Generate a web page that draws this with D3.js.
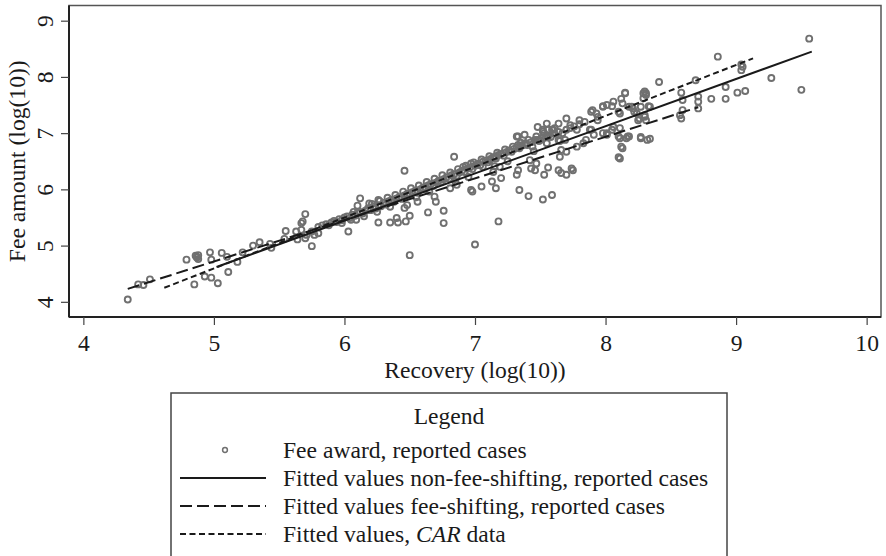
<!DOCTYPE html>
<html>
<head>
<meta charset="utf-8">
<script src="https://cdn.jsdelivr.net/npm/d3@7"></script>
<style>
  body { margin: 0; background: #fff; }
  svg text { font-family: "Liberation Serif", "Times New Roman", serif; fill: #1a1a1a; }
</style>
</head>
<body>
<div id="main"></div>
<script>
let w = 886;
let h = 556;

// scatter: Recovery (log10), Fee amount (log10)
let recovery = [4.34,4.42,4.46,4.51,4.79,4.87,4.86,4.88,4.88,4.87,4.97,4.98,5.06,5.10,4.93,4.98,4.85,5.03,5.11,5.18,
  5.22,5.30,5.35,5.43,5.44,5.54,5.55,5.63,5.64,5.67,5.70,5.75,5.68,5.67,5.71,5.77,5.80,5.70,5.75,
  5.98,6.03,6.07,6.09,6.12,6.10,6.14,6.18,6.19,6.26,6.35,6.41,6.47,6.50,6.50,6.64,6.76,6.76,7.00,7.18,
  6.46,6.84,6.40,6.48,6.46,6.56,6.70,6.69,6.26,6.97,6.98,7.05,7.13,7.16,7.20,7.32,7.33,7.34,7.41,7.52,7.59,
  7.43,7.53,7.56,7.64,7.66,7.70,7.74,7.75,7.66,7.70,7.55,7.56,7.61,7.64,7.70,7.73,7.78,7.80,7.78,7.83,
  7.88,7.89,7.93,7.94,7.98,8.01,8.06,8.11,8.13,8.15,7.98,8.01,8.05,8.11,8.11,8.16,8.13,8.11,8.20,8.27,
  8.29,8.31,8.27,8.32,8.26,8.30,9.56,9.50,9.27,9.07,9.01,9.04,9.04,9.05,8.86,8.92,8.92,8.81,8.69,8.71,
  8.71,8.71,8.58,8.59,8.59,8.57,8.58,8.41,8.30,8.31,8.29,8.34,8.30,8.31,8.21,8.22,8.25,8.27,8.34,8.18,
  8.15,8.12,8.33,8.18,8.10,7.94,7.90,7.98,8.05,7.89,7.91,8.01,8.06,7.85,8.10,8.17,8.12,8.10,8.24,
  7.60,7.52,7.50,7.56,7.44,7.33,7.38,7.14,7.19,7.06,7.11,7.16,7.33,6.81,6.86,6.97,6.91,7.42,7.47,7.46,
  7.39,7.48,7.55,7.64,7.69,7.65,7.52,7.48,7.32,
  5.80,5.83,5.86,5.88,5.90,5.92,5.94,5.96,5.98,6.00,6.02,6.04,6.06,6.08,6.10,6.12,6.14,6.16,6.18,6.20,
  6.22,6.24,6.26,6.28,6.30,6.32,6.34,6.36,6.38,6.40,6.42,6.44,6.46,6.48,6.50,6.52,6.54,6.56,6.58,6.60,
  6.62,6.64,6.66,6.68,6.70,6.72,6.74,6.76,6.78,6.80,6.82,6.84,6.86,6.88,6.90,6.92,6.94,6.96,6.98,7.00,
  7.02,7.04,7.06,7.08,7.10,7.12,7.14,7.16,7.18,7.20,7.22,7.24,7.26,7.28,7.30,7.32,7.34,7.36,7.38,7.40,
  7.43,7.46,7.49,7.52,7.55,7.58,7.61,7.64,7.67,7.70,7.73,7.76,7.80,7.84,
  6.21,6.27,6.33,6.39,6.45,6.51,6.57,6.63,6.69,6.75,6.81,6.87,6.93,6.99,7.05,7.11,7.17,7.23,7.29,7.35,
  7.41,7.47,7.53,7.59,
  6.05,6.15,6.25,6.35,6.55,6.65,6.85,6.95,7.15,7.25,7.45,7.65];
let feeAmount = [4.04,4.31,4.30,4.40,4.75,4.79,4.82,4.76,4.83,4.80,4.88,4.75,4.87,4.80,4.45,4.43,4.31,4.33,4.53,4.71,
  4.88,5.00,5.06,5.03,4.96,5.12,5.26,5.25,5.11,5.40,5.56,4.99,5.43,5.28,5.19,5.19,5.22,5.13,5.25,
  5.40,5.25,5.60,5.46,5.84,5.71,5.58,5.63,5.75,5.41,5.41,5.41,5.43,5.53,4.83,5.59,5.62,5.40,5.02,5.43,
  6.33,6.58,5.49,5.72,5.67,5.78,5.78,5.87,5.81,5.99,5.96,6.05,6.14,6.02,6.20,6.26,6.34,5.99,5.88,5.82,5.90,
  6.37,6.26,6.39,6.34,6.29,6.26,6.37,6.34,6.70,6.67,7.17,7.06,7.09,7.17,7.26,7.14,7.06,7.23,6.76,6.82,
  7.06,7.38,7.35,7.23,7.47,7.50,7.56,7.35,7.53,7.71,7.00,6.97,7.06,7.09,6.91,6.91,6.73,6.55,7.47,7.47,
  7.71,7.71,6.91,6.88,7.26,7.29,8.68,7.77,7.98,7.75,7.72,8.22,8.12,8.18,8.36,7.82,7.61,7.61,7.94,7.65,
  7.56,7.44,7.72,7.59,7.41,7.32,7.26,7.91,7.74,7.68,7.62,7.47,7.32,7.23,7.44,7.38,7.23,6.93,6.90,6.94,
  7.72,7.61,7.48,7.47,7.38,7.29,7.41,7.48,7.48,7.06,6.97,7.00,7.11,6.88,6.94,6.94,6.76,6.57,7.35,
  7.06,7.03,6.88,6.94,6.76,6.94,6.97,6.31,6.40,6.40,6.52,6.58,6.79,6.02,6.08,6.46,6.40,6.52,6.46,6.34,
  6.82,6.88,6.82,6.88,6.88,6.58,7.06,7.11,6.94,
  5.33,5.36,5.38,5.36,5.41,5.44,5.42,5.47,5.45,5.50,5.52,5.49,5.55,5.53,5.58,5.60,5.57,5.62,5.66,5.63,
  5.69,5.66,5.72,5.70,5.76,5.73,5.79,5.81,5.78,5.84,5.86,5.83,5.89,5.92,5.90,5.95,5.97,5.94,6.00,6.03,
  6.01,6.07,6.09,6.06,6.12,6.15,6.13,6.18,6.21,6.19,6.25,6.27,6.24,6.30,6.33,6.31,6.37,6.39,6.36,6.42,
  6.45,6.43,6.49,6.51,6.48,6.54,6.57,6.55,6.61,6.63,6.60,6.66,6.69,6.67,6.72,6.75,6.73,6.78,6.81,6.79,
  6.84,6.88,6.86,6.92,6.95,6.93,6.99,7.02,7.00,7.06,7.09,7.12,7.16,7.20,
  5.74,5.79,5.85,5.90,5.96,6.02,6.07,6.13,6.19,6.25,6.30,6.36,6.42,6.48,6.53,6.59,6.65,6.71,6.76,6.83,
  6.88,6.94,7.00,7.06,
  5.46,5.52,5.60,5.69,5.86,5.96,6.14,6.22,6.41,6.50,6.68,6.86];

// fitted lines, endpoints [recovery, fee]
let fitNonFee = [[5.02, 4.62], [9.58, 8.45]];
let fitFee = [[4.34, 4.23], [8.71, 7.46]];
let fitCAR = [[4.62, 4.25], [9.13, 8.33]];

let xTicks = [4, 5, 6, 7, 8, 9, 10];
let yTicks = [4, 5, 6, 7, 8, 9];

let legendLabels = ["Fee award, reported cases",
  "Fitted values non-fee-shifting, reported cases",
  "Fitted values fee-shifting, reported cases",
  "Fitted values, "];

let plot = {left: 69, right: 881, top: 5.5, bottom: 317};
let fs = 23.6;

let svg = d3.select("#main").append("svg")
  .attr("width", w)
  .attr("height", h);

let xScale = d3.scaleLinear().domain([3.89, 10.11]).range([plot.left, plot.right]);
let yScale = d3.scaleLinear().domain([3.73, 9.27]).range([plot.bottom, plot.top]);

// frame (top / right)
svg.append("rect")
  .attr("x", plot.left).attr("y", plot.top)
  .attr("width", plot.right - plot.left).attr("height", plot.bottom - plot.top)
  .attr("fill", "none").attr("stroke", "#555").attr("stroke-width", 1.5);

let pts = recovery.map((d, i) => [d, feeAmount[i]]);

svg.append("g").selectAll("circle")
  .data(pts)
  .enter().append("circle")
  .attr("cx", d => xScale(d[0]))
  .attr("cy", d => yScale(d[1]))
  .attr("r", 3)
  .attr("fill", "none")
  .attr("stroke", "#707070")
  .attr("stroke-width", 1.9);

let line = d3.line().x(d => xScale(d[0])).y(d => yScale(d[1]));
let styles = [null, "none", "12,5", "6,3.5"];

svg.append("path").attr("d", line(fitNonFee)).attr("fill", "none")
  .attr("stroke", "#1a1a1a").attr("stroke-width", 2);
svg.append("path").attr("d", line(fitFee)).attr("fill", "none")
  .attr("stroke", "#1a1a1a").attr("stroke-width", 2).attr("stroke-dasharray", styles[2]);
svg.append("path").attr("d", line(fitCAR)).attr("fill", "none")
  .attr("stroke", "#1a1a1a").attr("stroke-width", 2).attr("stroke-dasharray", styles[3]);

// axes
let xAxis = d3.axisBottom(xScale).tickValues(xTicks).tickSize(8).tickSizeOuter(0).tickFormat(d3.format("d"));
let yAxis = d3.axisLeft(yScale).tickValues(yTicks).tickSize(8).tickSizeOuter(0).tickFormat(d3.format("d"));

let gx = svg.append("g")
  .attr("transform", "translate(0," + plot.bottom + ")")
  .call(xAxis);
gx.select(".domain").attr("d", "M" + plot.left + ",0H" + plot.right).attr("stroke", "#222").attr("stroke-width", 2);
gx.selectAll(".tick line").attr("stroke", "#444").attr("stroke-width", 1.2);
gx.selectAll(".tick text").attr("font-size", fs).attr("font-family", "Liberation Serif").attr("fill", "#1a1a1a").attr("y", 17).attr("dy", "0.71em");

let gy = svg.append("g")
  .attr("transform", "translate(" + plot.left + ",0)")
  .call(yAxis);
gy.select(".domain").attr("d", "M0," + plot.top + "V" + plot.bottom).attr("stroke", "#222").attr("stroke-width", 2);
gy.selectAll(".tick line").attr("stroke", "#444").attr("stroke-width", 1.2);
gy.selectAll(".tick text")
  .attr("font-size", fs).attr("font-family", "Liberation Serif").attr("fill", "#1a1a1a")
  .attr("transform", "rotate(-90)")
  .attr("x", 0).attr("y", -16).attr("dy", 0)
  .attr("text-anchor", "middle");

svg.append("text")
  .attr("x", (xScale(4) + xScale(10)) / 2)
  .attr("y", 378)
  .attr("text-anchor", "middle")
  .attr("font-size", fs)
  .text("Recovery (log(10))");

svg.append("text")
  .attr("transform", "translate(25," + ((plot.top + plot.bottom) / 2) + ") rotate(-90)")
  .attr("text-anchor", "middle")
  .attr("font-size", fs)
  .text("Fee amount (log(10))");

// legend
let lg = svg.append("g");
lg.append("rect")
  .attr("x", 171).attr("y", 393).attr("width", 556).attr("height", 175)
  .attr("fill", "#fff").attr("stroke", "#444").attr("stroke-width", 1.5);

lg.append("text").attr("x", 449).attr("y", 424).attr("text-anchor", "middle")
  .attr("font-size", fs).text("Legend");

let rowY = [450, 478, 506, 534];

lg.append("circle").attr("cx", 225).attr("cy", rowY[0]).attr("r", 2.4)
  .attr("fill", "none").attr("stroke", "#707070").attr("stroke-width", 1.5);

[1, 2, 3].forEach(i => {
  let p = lg.append("line").attr("x1", 180).attr("x2", 266)
    .attr("y1", rowY[i]).attr("y2", rowY[i])
    .attr("stroke", "#1a1a1a").attr("stroke-width", 2);
  if (styles[i] != "none") p.attr("stroke-dasharray", styles[i]);
});

legendLabels.forEach((t, i) => {
  let tx = lg.append("text").attr("x", 283).attr("y", rowY[i] + 8).attr("font-size", fs).text(t);
  if (i == 3) {
    tx.append("tspan").attr("font-style", "italic").text("CAR");
    tx.append("tspan").text(" data");
  }
});
</script>
</body>
</html>
